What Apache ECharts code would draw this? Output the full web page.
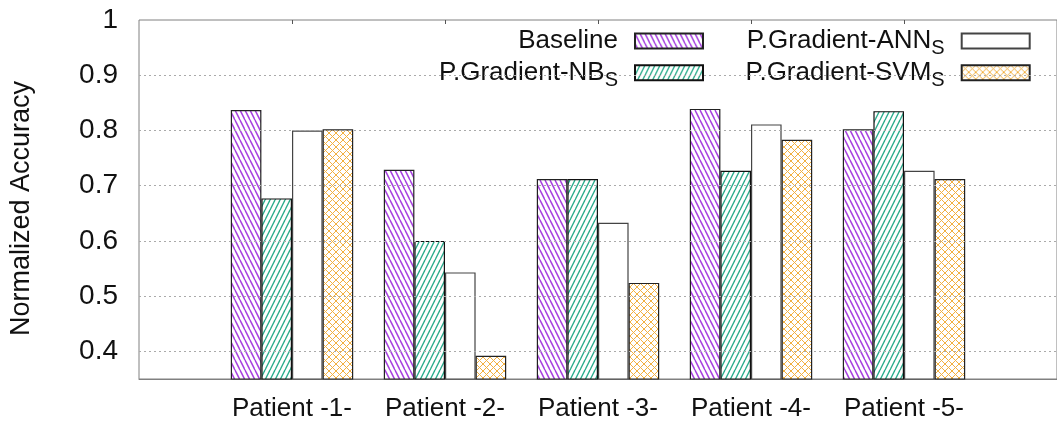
<!DOCTYPE html>
<html>
<head>
<meta charset="utf-8">
<script src="https://cdn.jsdelivr.net/npm/echarts@6/dist/echarts.min.js"></script>
<style>html,body{margin:0;padding:0;background:#fff}#c{width:1057px;height:423px}</style>
</head>
<body>
<div id="c"></div>
<script>
// ---- data ----
const categories = ['Patient -1-', 'Patient -2-', 'Patient -3-', 'Patient -4-', 'Patient -5-'];
const seriesNames = ['Baseline', 'P.Gradient-NBS', 'P.Gradient-ANNS', 'P.Gradient-SVMS'];
const baseline = [0.837, 0.729, 0.712, 0.839, 0.802];
const nbS      = [0.677, 0.600, 0.712, 0.727, 0.835];
const annS     = [0.800, 0.543, 0.633, 0.811, 0.727];
const svmS     = [0.802, 0.392, 0.524, 0.783, 0.712];
const yTicks   = [0.4, 0.5, 0.6, 0.7, 0.8, 0.9, 1.0];
const gridValues = [0.4, 0.5, 0.6, 0.7, 0.8, 0.9];

// ---- patterns ----
function stripes(color, dir, lw) {
  const w = 5, h = 10;
  const c = document.createElement('canvas');
  c.width = w; c.height = h;
  const g = c.getContext('2d');
  g.fillStyle = '#fff'; g.fillRect(0, 0, w, h);
  g.strokeStyle = color; g.lineWidth = lw;
  for (let k = -1; k <= 1; k++) {
    g.beginPath();
    if (dir === 'back') { g.moveTo(k * w, 0); g.lineTo(k * w + w, h); }
    else { g.moveTo(k * w + w, 0); g.lineTo(k * w, h); }
    g.stroke();
  }
  return { image: c, repeat: 'repeat' };
}
function cross(color) {
  const s = 7;
  const c = document.createElement('canvas');
  c.width = s; c.height = s;
  const g = c.getContext('2d');
  g.fillStyle = '#fff'; g.fillRect(0, 0, s, s);
  g.strokeStyle = color; g.lineWidth = 1;
  for (let k = -1; k <= 1; k++) {
    g.beginPath(); g.moveTo(k * s, 0); g.lineTo(k * s + s, s); g.stroke();
    g.beginPath(); g.moveTo(k * s + s, 0); g.lineTo(k * s, s); g.stroke();
  }
  return { image: c, repeat: 'repeat' };
}

const fills = [
  stripes('#a742e0', 'back', 1.5),
  stripes('#2aac8c', 'fwd', 1.4),
  '#ffffff',
  cross('#f2b040')
];
const borders = ['#222222', '#111111', '#444444', '#222222'];
const values = [baseline, nbS, annS, svmS];

const FONT = 'Liberation Sans';
const legendFmt = n => (n === 'Baseline' ? n : n.slice(0, -1) + '{s|S}') + '{g| }';
const legendRich = {
  s: { fontSize: 20, fontFamily: FONT, color: '#111', padding: [15, 0, 0, 0] },
  g: { width: 12, fontSize: 17 }
};
function legendAt(name, right, top) {
  return {
    data: [name], orient: 'vertical', align: 'right', right: right, top: top,
    padding: 0, itemWidth: 68, itemHeight: 15, icon: 'rect', selectedMode: false,
    formatter: legendFmt,
    textStyle: { fontSize: 26, fontFamily: FONT, color: '#111', rich: legendRich }
  };
}

const series = [{
  type: 'line', data: [], silent: true, z: 1,
  markLine: {
    silent: true, symbol: 'none', label: { show: false },
    lineStyle: { color: '#aaa', type: [2, 3], width: 1 },
    data: gridValues.map(v => ({ yAxis: v }))
  }
}];
seriesNames.forEach((n, i) => {
  series.push({
    name: n, type: 'bar', z: 2,
    barCategoryGap: '20%', barGap: '0%',
    data: values[i].map((v, j) => [j, v]),
    itemStyle: { color: fills[i], borderColor: borders[i], borderWidth: 1.2 }
  });
});

const chart = echarts.init(document.getElementById('c'), null, { renderer: 'canvas' });
chart.setOption({
  animation: false,
  backgroundColor: '#fff',
  grid: { left: 138, top: 20, width: 925, height: 359, show: true, borderColor: '#808080', borderWidth: 1, containLabel: false },
  legend: [
    legendAt('Baseline', 353, 28),
    legendAt('P.Gradient-NBS', 353, 59.7),
    legendAt('P.Gradient-ANNS', 26.3, 28),
    legendAt('P.Gradient-SVMS', 26.3, 59.7)
  ],
  xAxis: [{
    type: 'value', min: -1, max: 5,
    axisLine: { show: true, lineStyle: { color: '#808080' } },
    axisTick: { show: false },
    splitLine: { show: false },
    axisLabel: {
      customValues: [0, 1, 2, 3, 4],
      formatter: v => categories[Math.round(v)],
      fontSize: 26, fontFamily: FONT, color: '#111', margin: 17
    }
  }, {
    type: 'value', min: -1, max: 5, position: 'top',
    axisLine: { show: false },
    axisTick: { show: true, inside: true, length: 4, customValues: [0, 1, 2, 3, 4], lineStyle: { color: '#555' } },
    axisLabel: { show: false },
    splitLine: { show: false }
  }],
  yAxis: {
    type: 'value', min: 0.35, max: 1,
    name: 'Normalized Accuracy', nameLocation: 'middle', nameGap: 104,
    nameTextStyle: { fontSize: 27, fontFamily: FONT, color: '#111', padding: [0, 18, 0, 0] },
    axisLine: { show: false },
    axisTick: { show: false },
    splitLine: { show: false },
    axisLabel: {
      customValues: yTicks,
      formatter: v => (Math.abs(v - 1) < 1e-9 ? '1' : v.toFixed(1)),
      fontSize: 28, fontFamily: FONT, color: '#111', margin: 21
    }
  },
  series: series
});
</script>
</body>
</html>
